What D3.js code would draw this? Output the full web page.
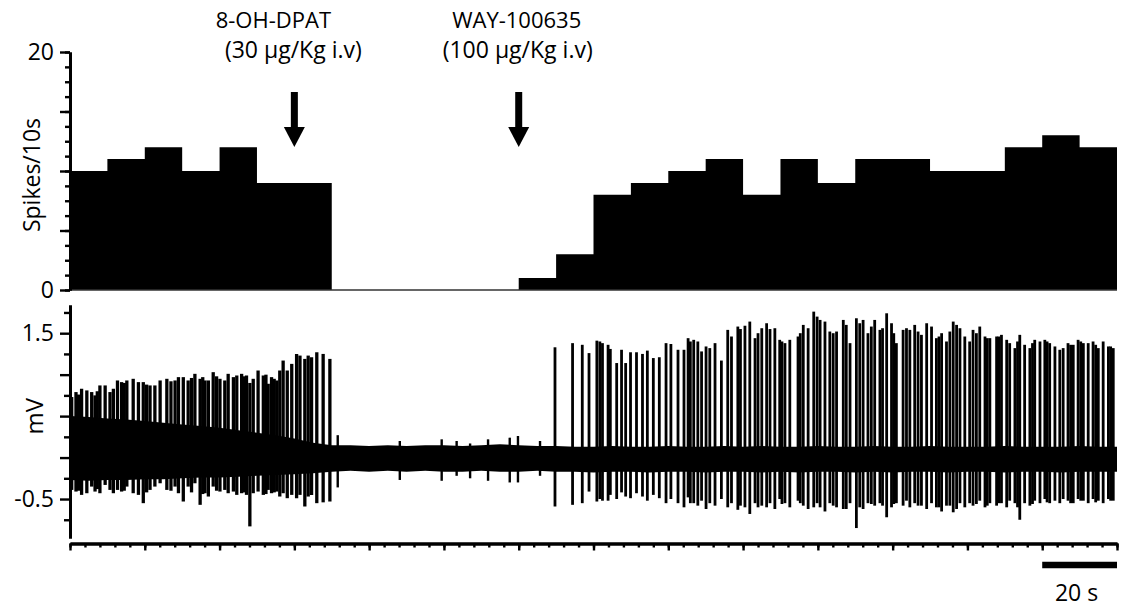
<!DOCTYPE html>
<html>
<head>
<meta charset="utf-8">
<script src="https://cdn.jsdelivr.net/npm/d3@7"></script>
<style>
  body { margin: 0; background: #fff; }
  text { font-family: "Open Sans", sans-serif; fill: #000; }
</style>
</head>
<body>
<div id="chart"></div>
<script>
// spikes per 10 s bin (28 bins, 0-280 s)
const binCounts = [10, 11, 12, 10, 12, 9, 9, 0, 0, 0, 0, 0, 1, 3,
                   8, 9, 10, 11, 8, 11, 9, 11, 11, 10, 10, 12, 13, 12];
const binSize = 10;

// drug injections
const drugTimes = [60, 120];
const drugNames = ["8-OH-DPAT", "WAY-100635"];
const drugDoses = ["(30 µg/Kg i.v)", "(100 µg/Kg i.v)"];

// noise band of the raw trace (mV), sampled every 5 s
const envT = [0, 5, 10, 15, 20, 25, 30, 35, 40, 45, 50, 55, 60, 65, 70, 75, 80, 85, 90, 95,
              100, 105, 110, 115, 120, 125, 130, 135, 140, 145, 150, 155, 160, 165, 170, 175,
              180, 185, 190, 195, 200, 205, 210, 215, 220, 225, 230, 235, 240, 245, 250, 255,
              260, 265, 270, 275, 280];
const envHi = [0.50, 0.49, 0.47, 0.46, 0.44, 0.42, 0.40, 0.38, 0.36, 0.33, 0.30, 0.27, 0.23, 0.18,
               0.15, 0.15, 0.14, 0.15, 0.14, 0.15, 0.15, 0.14, 0.15, 0.16, 0.15, 0.14, 0.14, 0.13,
               0.13, 0.14, 0.13, 0.13, 0.14, 0.13, 0.13, 0.14, 0.13, 0.14, 0.13, 0.13, 0.14, 0.13,
               0.13, 0.14, 0.13, 0.13, 0.14, 0.13, 0.13, 0.13, 0.14, 0.13, 0.13, 0.13, 0.14, 0.13, 0.13];
const envLo = [-0.27, -0.28, -0.27, -0.27, -0.26, -0.26, -0.25, -0.24, -0.24, -0.23, -0.22, -0.21,
               -0.20, -0.19, -0.17, -0.16, -0.17, -0.16, -0.17, -0.16, -0.17, -0.17, -0.16, -0.17,
               -0.17, -0.16, -0.17, -0.17, -0.18, -0.17, -0.17, -0.18, -0.17, -0.17, -0.18, -0.17,
               -0.17, -0.18, -0.17, -0.18, -0.17, -0.17, -0.18, -0.17, -0.18, -0.17, -0.17, -0.18,
               -0.17, -0.17, -0.18, -0.17, -0.17, -0.18, -0.17, -0.17, -0.17];

// spikes: time (s), peak (mV), trough (mV)
// (second block of each array = closely paired spikes that merge into thick bars)
const spikeT = [0.45, 1.6, 3.1, 4.5, 5.8, 6.7, 8.0, 9.4, 10.7, 11.6, 12.7, 13.8, 15.2, 16.9, 18.3,
  19.6, 21.4, 22.7, 24.1, 25.9, 28.1, 29.0, 30.3, 31.6, 33.4, 34.8, 36.1, 37.0, 38.3, 40.1, 41.4,
  42.3, 43.7, 44.6, 45.9, 47.2, 48.1, 49.0, 50.3, 51.7, 53.0, 53.9, 55.3, 56.1, 57.0, 58.1, 59.3,
  60.6, 61.5, 62.8, 63.7, 64.6, 66.0, 67.7, 69.5,
  129.7, 134.4, 137.0, 138.8, 140.9, 141.7, 143.9, 144.5, 146.2, 147.5, 148.6, 149.9, 151.5,
  153.1, 154.4, 156.0, 157.6, 159.4, 160.7, 162.6, 164.2, 165.3, 166.8, 167.9, 168.9, 170.1,
  171.1, 172.5, 174.2, 175.9, 176.9, 178.6, 180.5, 181.8, 183.2, 184.0, 186.3, 187.2, 188.5,
  189.8, 191.2, 192.5, 194.7, 196.1, 197.4, 198.9, 199.8, 201.9, 203.2, 205.0, 206.8, 208.6,
  210.3, 212.1, 213.4, 215.2, 216.6, 218.4, 219.7, 221.0, 222.8, 223.7, 224.6, 225.9, 227.7,
  229.1, 230.4, 231.7, 233.1, 234.4, 236.2, 238.0, 239.3, 240.6, 241.5, 243.3, 244.7, 246.0,
  247.8, 249.1, 250.5, 251.3, 252.7, 254.0, 255.3, 256.7, 258.0, 259.4, 260.7, 262.0, 263.4,
  264.7, 265.6, 266.9, 268.3, 269.6, 271.0, 272.3, 273.6, 275.0, 276.3, 277.7, 279.0,
  2.3, 7.3, 14.5, 20.5, 27.0, 32.5, 35.5, 39.2, 46.5, 52.4, 54.6,
  142.4, 165.9, 179.3, 185.0, 190.4, 195.3, 200.6, 204.1, 207.6, 211.2, 214.3, 217.3, 220.3,
  226.8, 232.4, 235.3, 237.1, 242.4, 245.3, 248.4, 253.4, 257.4, 261.3, 267.6, 270.3, 274.3, 278.3];
const spikeTop = [0.73, 0.79, 0.83, 0.81, 0.79, 0.75, 0.87, 0.87, 0.79, 0.83, 0.93, 0.91, 0.93, 0.95,
  0.91, 0.91, 0.87, 0.87, 0.93, 0.95, 0.93, 0.97, 0.97, 0.93, 1.01, 0.95, 0.93, 0.93, 1.03, 0.95,
  0.93, 1.01, 0.97, 0.99, 1.01, 0.99, 0.90, 0.95, 1.05, 0.99, 0.89, 0.97, 0.93, 1.05, 1.17, 1.05,
  1.13, 1.25, 1.23, 1.19, 1.23, 1.21, 1.27, 1.25, 1.19,
  1.33, 1.38, 1.36, 1.26, 1.41, 1.40, 1.36, 1.31, 1.14, 1.30, 1.14, 1.27, 1.27, 1.25, 1.29, 1.20,
  1.21, 1.38, 1.37, 1.30, 1.30, 1.44, 1.42, 1.40, 1.28, 1.34, 1.32, 1.38, 1.17, 1.54, 1.46, 1.58,
  1.59, 1.64, 1.44, 1.50, 1.62, 1.55, 1.56, 1.42, 1.38, 1.42, 1.46, 1.60, 1.56, 1.76, 1.70, 1.64,
  1.52, 1.52, 1.66, 1.38, 1.68, 1.66, 1.50, 1.66, 1.54, 1.74, 1.62, 1.38, 1.54, 1.56, 1.54, 1.60,
  1.48, 1.62, 1.58, 1.44, 1.50, 1.40, 1.64, 1.56, 1.46, 1.40, 1.54, 1.58, 1.46, 1.44, 1.46, 1.48,
  1.42, 1.38, 1.32, 1.48, 1.36, 1.32, 1.42, 1.40, 1.42, 1.38, 1.34, 1.30, 1.32, 1.38, 1.36, 1.42,
  1.38, 1.38, 1.40, 1.32, 1.40, 1.34, 1.32,
  0.76, 0.80, 0.90, 0.88, 0.92, 0.96, 0.97, 0.98, 0.98, 1.00, 0.95,
  1.38, 1.40, 1.55, 1.56, 1.40, 1.50, 1.66, 1.50, 1.60, 1.62, 1.58, 1.56, 1.50,
  1.52, 1.46, 1.52, 1.60, 1.50, 1.44, 1.46, 1.40, 1.38, 1.40, 1.36, 1.40, 1.36, 1.34];
const spikeBot = [-0.39, -0.41, -0.45, -0.43, -0.35, -0.41, -0.43, -0.33, -0.39, -0.43, -0.39, -0.41,
  -0.35, -0.43, -0.45, -0.55, -0.39, -0.35, -0.31, -0.39, -0.35, -0.43, -0.53, -0.35, -0.31, -0.57,
  -0.43, -0.47, -0.35, -0.41, -0.39, -0.43, -0.41, -0.45, -0.43, -0.45, -0.83, -0.43, -0.41, -0.45,
  -0.39, -0.43, -0.41, -0.47, -0.43, -0.49, -0.45, -0.49, -0.45, -0.59, -0.47, -0.45, -0.55, -0.54,
  -0.53,
  -0.59, -0.57, -0.55, -0.41, -0.53, -0.50, -0.52, -0.45, -0.50, -0.42, -0.47, -0.49, -0.43, -0.47,
  -0.52, -0.45, -0.49, -0.55, -0.50, -0.55, -0.60, -0.48, -0.55, -0.58, -0.52, -0.62, -0.55, -0.58,
  -0.50, -0.60, -0.55, -0.63, -0.60, -0.68, -0.55, -0.60, -0.60, -0.55, -0.62, -0.50, -0.55, -0.60,
  -0.52, -0.58, -0.62, -0.60, -0.55, -0.65, -0.55, -0.60, -0.62, -0.55, -0.85, -0.62, -0.55, -0.58,
  -0.55, -0.72, -0.60, -0.55, -0.58, -0.52, -0.60, -0.55, -0.58, -0.62, -0.55, -0.60, -0.65, -0.58,
  -0.66, -0.55, -0.60, -0.55, -0.58, -0.52, -0.60, -0.55, -0.58, -0.55, -0.60, -0.52, -0.55, -0.75,
  -0.55, -0.58, -0.52, -0.55, -0.50, -0.55, -0.52, -0.55, -0.50, -0.52, -0.55, -0.50, -0.52, -0.55,
  -0.50, -0.52, -0.55, -0.50, -0.52,
  -0.40, -0.38, -0.40, -0.42, -0.40, -0.42, -0.44, -0.40, -0.42, -0.44, -0.42,
  -0.52, -0.55, -0.58, -0.58, -0.56, -0.55, -0.60, -0.58, -0.62, -0.60, -0.56, -0.58, -0.56,
  -0.58, -0.60, -0.58, -0.62, -0.56, -0.58, -0.55, -0.60, -0.56, -0.54, -0.55, -0.52, -0.54, -0.52];

// small noise bumps during the silent period
const bumpT = [71.6, 88.2, 99.4, 103.4, 107.0, 111.8, 117.6, 119.8, 125.7];
const bumpTop = [0.27, 0.20, 0.22, 0.20, 0.17, 0.22, 0.24, 0.26, 0.20];
const bumpBot = [-0.36, -0.27, -0.28, -0.22, -0.25, -0.28, -0.30, -0.30, -0.22];

// axis ticks
const xMajorTicks = [0, 20, 40, 60, 80, 100, 120, 140, 160, 180, 200, 220, 240, 260, 280];
const spkMajorTicks = [0, 5, 10, 15, 20];
const spkLabels = [0, 20];
const mvMajorTicks = [-0.5, 0, 0.5, 1.0, 1.5];
const mvMinorTicks = [-0.75, -0.25, 0.25, 0.75, 1.25, 1.75];
const mvLabels = [-0.5, 1.5];
const scaleBar = [260, 280];

const W = 1121, H = 608;
const svg = d3.select("#chart").append("svg")
  .attr("width", W).attr("height", H);

const x = d3.scaleLinear().domain([0, 280]).range([70, 1117]);
const yTop = d3.scaleLinear().domain([0, 20]).range([290, 52]);
const yBot = d3.scaleLinear().domain([-0.97, 1.84]).range([538, 305]);

// ---- histogram (one stepped area, no seams) ----
const steps = binCounts.map((c, i) => ({t: i * binSize, c: c}));
steps.push({t: binCounts.length * binSize, c: binCounts[binCounts.length - 1]});
const histArea = d3.area()
  .curve(d3.curveStepAfter)
  .x(d => x(d.t))
  .y0(yTop(0))
  .y1(d => yTop(d.c));
svg.append("path")
  .datum(steps)
  .attr("d", histArea)
  .attr("fill", "#000");

svg.append("line")
  .attr("x1", x(0)).attr("x2", x(280))
  .attr("y1", yTop(0)).attr("y2", yTop(0))
  .attr("stroke", "#333").attr("stroke-width", 1.6);

function styleAxis(g, w) {
  g.select(".domain").attr("stroke-width", w).attr("stroke", "#000");
  g.selectAll(".tick line").attr("stroke-width", 2.4).attr("stroke", "#000");
  g.selectAll(".tick text").style("font-size", "23px").attr("font-family", "Open Sans");
}

// top y axis
svg.append("g")
  .attr("transform", `translate(${x(0)},0)`)
  .call(d3.axisLeft(yTop).tickValues(d3.range(0, 20.01, 1.25)).tickSize(5).tickFormat("").tickSizeOuter(0))
  .call(g => styleAxis(g, 3));
svg.append("g")
  .attr("transform", `translate(${x(0)},0)`)
  .call(d3.axisLeft(yTop).tickValues(spkMajorTicks).tickSize(10).tickPadding(6).tickSizeOuter(0)
    .tickFormat(d => spkLabels.includes(d) ? d : ""))
  .call(g => styleAxis(g, 3));

svg.append("text")
  .attr("transform", `translate(40,175) rotate(-90)`)
  .attr("text-anchor", "middle")
  .style("font-size", "23px")
  .text("Spikes/10s");

// ---- raw trace ----
const band = d3.area()
  .x((d, i) => x(envT[i]))
  .y0((d, i) => yBot(envLo[i]))
  .y1((d, i) => yBot(envHi[i]));
svg.append("path")
  .datum(envT)
  .attr("d", band)
  .attr("fill", "#000");

// early spikes sit closer together, drawn a bit wider so they merge like the original
svg.append("g").selectAll("line")
  .data(spikeT)
  .join("line")
  .attr("x1", d => x(d)).attr("x2", d => x(d))
  .attr("y1", (d, i) => yBot(spikeTop[i]))
  .attr("y2", (d, i) => yBot(spikeBot[i]))
  .attr("stroke", "#000")
  .attr("stroke-width", d => d < 100 ? 3.3 : 2.8);

svg.append("g").selectAll("line")
  .data(bumpT)
  .join("line")
  .attr("x1", d => x(d)).attr("x2", d => x(d))
  .attr("y1", (d, i) => yBot(bumpTop[i]))
  .attr("y2", (d, i) => yBot(bumpBot[i]))
  .attr("stroke", "#000").attr("stroke-width", 2.4);

// mV axis
svg.append("g")
  .attr("transform", `translate(${x(0)},0)`)
  .call(d3.axisLeft(yBot).tickValues(mvMinorTicks).tickSize(6).tickFormat("").tickSizeOuter(0))
  .call(g => styleAxis(g, 3));
svg.append("g")
  .attr("transform", `translate(${x(0)},0)`)
  .call(d3.axisLeft(yBot).tickValues(mvMajorTicks).tickSize(10).tickPadding(6).tickSizeOuter(0)
    .tickFormat(d => mvLabels.includes(d) ? String(d) : ""))
  .call(g => styleAxis(g, 3));

svg.append("text")
  .attr("transform", `translate(43,${yBot(0.5)}) rotate(-90)`)
  .attr("text-anchor", "middle")
  .style("font-size", "24px")
  .text("mV");

// time axis
svg.append("g")
  .attr("transform", `translate(0,543.5)`)
  .call(d3.axisBottom(x).tickValues(d3.range(0, 280.1, 4)).tickSize(4).tickFormat("").tickSizeOuter(0))
  .call(g => styleAxis(g, 3));
svg.append("g")
  .attr("transform", `translate(0,543.5)`)
  .call(d3.axisBottom(x).tickValues(xMajorTicks).tickSize(7).tickFormat("").tickSizeOuter(0))
  .call(g => styleAxis(g, 3));

// scale bar
svg.append("line")
  .attr("x1", x(scaleBar[0])).attr("x2", x(scaleBar[1]))
  .attr("y1", 565).attr("y2", 565)
  .attr("stroke", "#000").attr("stroke-width", 6.5);
svg.append("text")
  .attr("x", (x(scaleBar[0]) + x(scaleBar[1])) / 2 - 3)
  .attr("y", 601)
  .attr("text-anchor", "middle")
  .style("font-size", "23px")
  .text((scaleBar[1] - scaleBar[0]) + " s");

// ---- drug arrows ----
const arrows = svg.append("g");
drugTimes.forEach((t, i) => {
  const cx = x(t);
  arrows.append("rect")
    .attr("x", cx - 3.5).attr("y", 92)
    .attr("width", 7).attr("height", 38)
    .attr("fill", "#000");
  arrows.append("path")
    .attr("d", `M${cx - 10.5},127 L${cx + 10.5},127 L${cx},147 Z`)
    .attr("fill", "#000");
  arrows.append("text")
    .attr("x", cx + (i === 0 ? -21 : -2))
    .attr("y", 28)
    .attr("text-anchor", "middle")
    .style("font-size", "22px")
    .text(drugNames[i]);
  arrows.append("text")
    .attr("x", cx - 1)
    .attr("y", 58)
    .attr("text-anchor", "middle")
    .style("font-size", "23px")
    .text(drugDoses[i]);
});
</script>
</body>
</html>
